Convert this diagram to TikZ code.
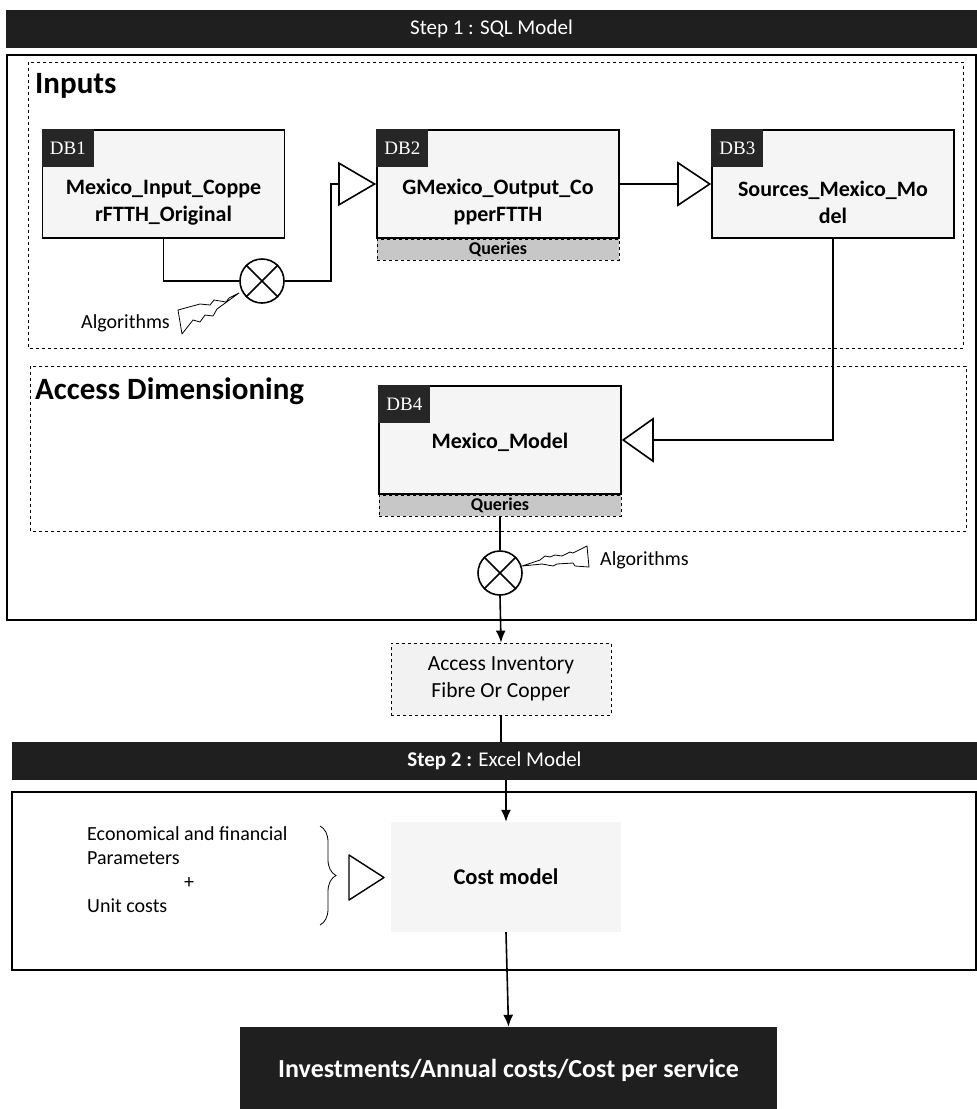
\documentclass[tikz,border=0pt]{standalone}
\usepackage{fontspec}
\setmainfont{Carlito}
\newfontfamily\tagfont{Liberation Serif}
\usetikzlibrary{arrows.meta,positioning,decorations.pathreplacing}

\tikzstyle{header}=[fill=black!88,
                        text=white,
                        minimum height=38pt,
                        inner sep=0pt,
                        font=\fontsize{21}{24}\selectfont]
\tikzstyle{database}=[draw=black,
                        line width=1.6pt,
                        fill=black!4,
                        minimum width=242pt,
                        minimum height=108pt,
                        inner sep=0pt]
\tikzstyle{dbtag}=[fill=black!85,
                        text=white,
                        minimum width=52pt,
                        minimum height=38pt,
                        inner sep=0pt,
                        font=\tagfont\fontsize{19}{22}\selectfont]
\tikzstyle{dbname}=[align=center,
                        inner sep=0pt,
                        font=\bfseries\fontsize{22}{27}\selectfont]
\tikzstyle{queries}=[draw=black,
                        dashed,
                        thick,
                        fill=black!22,
                        minimum width=242pt,
                        minimum height=21pt,
                        inner sep=0pt,
                        font=\bfseries\fontsize{18}{20}\selectfont]
\tikzstyle{areabox}=[draw=black, dashed, thick]
\tikzstyle{stagebox}=[draw=black, line width=1.4pt]
\tikzstyle{mixer}=[circle,
                        draw=black,
                        line width=1.6pt,
                        fill=white,
                        minimum size=44pt,
                        inner sep=0pt]
\tikzstyle{flash}=[draw=black, thick, fill=white, line join=round]
\tikzstyle{txt}=[inner sep=0pt, font=\fontsize{20}{24}\selectfont]
\tikzstyle{title}=[inner sep=0pt, font=\bfseries\fontsize{31}{36}\selectfont]
\tikzstyle{link}=[line width=1.6pt]

\begin{document}
\begin{tikzpicture}[x=1pt,y=-1pt,>={Latex[length=12pt,width=10pt]}]
  \useasboundingbox (0,0) rectangle (977,1109);

  % Step 1: the SQL model with its two areas
  \node (step1) [header, minimum width=971pt] at (491.5,29) {Step 1 : SQL Model};
  \draw[stagebox] (7,55) rectangle (976,620);
  \draw[areabox] (28,62) rectangle (963,348);
  \draw[areabox] (30,366) rectangle (966,531);
  \node (inputs) [title, anchor=west] at (35,86) {Inputs};
  \node (access) [title, anchor=west] at (35,391) {Access Dimensioning};

  % The four databases:
  \node (DB1) [database] at (163.5,184) {};
  \node (DB2) [database] at (498,184) {};
  \node (DB3) [database] at (833,184) {};
  \node (DB4) [database] at (500,440) {};
  \node (tag1) [dbtag, anchor=north west] at (DB1.north west) {DB1};
  \node (tag2) [dbtag, anchor=north west] at (DB2.north west) {DB2};
  \node (tag3) [dbtag, anchor=north west] at (DB3.north west) {DB3};
  \node (tag4) [dbtag, anchor=north west] at (DB4.north west) {DB4};
  \node (name1) [dbname] at ([yshift=-18pt]DB1.center) {Mexico\_Input\_Coppe\\rFTTH\_Original};
  \node (name2) [dbname] at ([yshift=-18pt]DB2.center) {GMexico\_Output\_Co\\pperFTTH};
  \node (name3) [dbname] at ([yshift=-18pt]DB3.center) {Sources\_Mexico\_Mo\\del};
  \node (name4) [dbname] at ([yshift=-2pt]DB4.center) {Mexico\_Model};
  \node (query2) [queries, anchor=north] at (DB2.south) {Queries};
  \node (query4) [queries, anchor=north] at (DB4.south) {Queries};

  % Algorithms applied between the databases
  \node (mix1) [mixer] at (262,281) {};
  \node (mix2) [mixer] at (500,573) {};
  \draw[link] (mix1.north west) -- (mix1.south east) (mix1.north east) -- (mix1.south west);
  \draw[link] (mix2.north west) -- (mix2.south east) (mix2.north east) -- (mix2.south west);
  \draw[flash] (239,293) -- (229,298) -- (226,302) -- (214,300) -- (210,305) -- (200,304)
        -- (178,310) -- (182,334) -- (193,320) -- (200,322) -- (205,315) -- (213,316)
        -- (217,309) -- cycle;
  \draw[flash] (522,566) -- (540,560) -- (545,556) -- (550,557) -- (555,555) -- (562,556)
        -- (570,552) -- (573,553) -- (587,546) -- (589,567) -- (575,566) -- (573,563)
        -- (557,564) -- (553,566) -- (542,564) -- cycle;
  \node (algo1) [txt, anchor=east] at (170,323) {Algorithms};
  \node (algo2) [txt, anchor=west] at (600,560) {Algorithms};

  % The diagram elements are now connected:
  \coordinate (bend1) at (331,281);
  \draw[link] (DB1.south) |- (mix1.west);
  \draw[link, -{Triangle[open,length=38pt,width=44pt]}] (mix1.east) -- (bend1) |- (DB2.west);
  \draw[link, -{Triangle[open,length=34pt,width=45pt]}] (DB2.east) -- (DB3.west);
  \draw[link, -{Triangle[open,length=32pt,width=45pt]}] (DB3.south) |- (DB4.east);
  \draw[link] (query4.south) -- (mix2.north);

  % Inventory handed over to step 2
  \node (inv) [draw=black, dashed, thick, fill=black!5, minimum width=220pt, minimum height=72pt,
        align=center, font=\fontsize{21.5}{27}\selectfont] at (501,679) {Access Inventory\\Fibre Or Copper};
  \path[->, link]
        (mix2.south) edge (inv.north);

  % Step 2: the Excel model
  \node (step2) [header, minimum width=965pt] at (494.5,761) {\textbf{Step 2 :} Excel Model};
  \draw[stagebox] (12,792) rectangle (976,970);
  \node (cost) [fill=black!4, minimum width=230pt, minimum height=110pt,
        font=\bfseries\fontsize{22.5}{26}\selectfont] at (506,877) {Cost model};
  \node (econ) [txt, anchor=west] at (87,834) {Economical and financial};
  \node (param) [txt, anchor=west] at (87,858) {Parameters};
  \node (plus) [txt] at (189,883) {+};
  \node (unit) [txt, anchor=west] at (87,906) {Unit costs};
  \draw[thick, decorate, decoration={brace, amplitude=16pt}] (320,826) -- (320,925);
  \draw[line width=1.4pt, line join=round] (349,855) -- (384,877.5) -- (349,900) -- cycle;

  \node (result) [fill=black!88, text=white, minimum width=537pt, minimum height=86pt,
        font=\bfseries\fontsize{26}{30}\selectfont] at (508.5,1070) {Investments/Annual costs/Cost per service};

  \path[link]
        (inv.south) edge (inv.south |- step2.north);
  \path[->, link]
        (step2.south -| cost.north) edge (cost.north)
        (cost.south) edge (result.north);

\end{tikzpicture}
\end{document}
